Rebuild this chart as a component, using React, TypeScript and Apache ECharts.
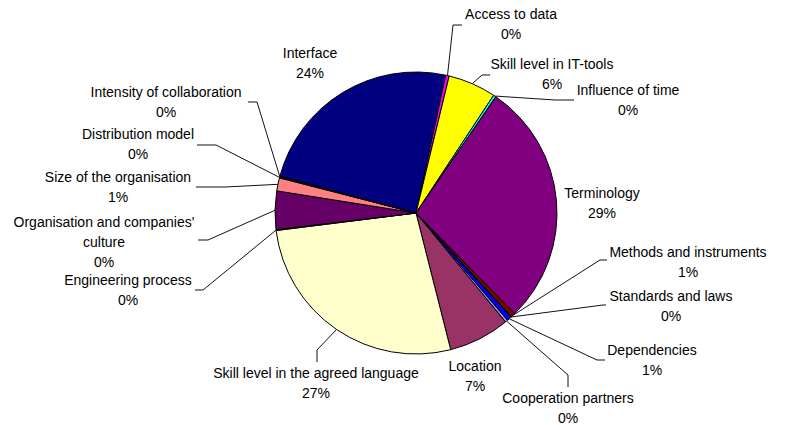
import React, { useEffect, useRef } from "react";
import * as echarts from "echarts";

// Slices in drawing order (clockwise)
const categories = [
  "Cooperation partners",
  "Location",
  "Skill level in the agreed language",
  "Engineering process",
  "Organisation and companies' culture",
  "Size of the organisation",
  "Distribution model",
  "Intensity of collaboration",
  "Interface",
  "Access to data",
  "Skill level in IT-tools",
  "Influence of time",
  "Terminology",
  "Methods and instruments",
  "Standards and laws",
  "Dependencies",
];
const shares = [0.3, 7.0, 27.0, 0.1, 4.4, 1.5, 0.1, 0.1, 24.2, 0.4, 5.5, 0.3, 28.1, 0.5, 0.1, 0.5];
const percentLabels = ["0%", "7%", "27%", "0%", "0%", "1%", "0%", "0%", "24%", "0%", "6%", "0%", "29%", "1%", "0%", "1%"];
const colors = [
  "#9999FF", "#993366", "#FFFFCC", "#CCFFFF", "#660066", "#FF8080", "#0066CC", "#CCCCFF",
  "#000080", "#FF00FF", "#FFFF00", "#00FFFF", "#800080", "#800000", "#008080", "#0000FF",
];
const wrappedNames: Record<string, string> = {
  "Organisation and companies' culture": "Organisation and companies'\nculture",
};

// Label placement (centre of the label block, and leader line elbow/end points)
type Placement = { c: [number, number]; line: [number, number][] | null };
const placements: Placement[] = [
  { c: [568, 408], line: [[568, 375], [568, 387]] },
  { c: [475, 376], line: null },
  { c: [316, 383], line: [[317, 350], [317, 362]] },
  { c: [128, 290], line: [[203, 290], [195, 290]] },
  { c: [104, 242], line: [[208, 240], [198, 240]] },
  { c: [118, 187], line: [[225, 187], [196, 187]] },
  { c: [138, 144], line: [[216, 145], [197, 145]] },
  { c: [166, 102], line: [[257, 102], [248, 102]] },
  { c: [310, 63], line: null },
  { c: [511, 24], line: [[453, 25], [462, 25]] },
  { c: [552, 74], line: [[482, 75], [490, 75]] },
  { c: [628, 100], line: [[555, 100], [574, 100]] },
  { c: [602, 203], line: null },
  { c: [688, 262], line: [[600, 260], [607, 260]] },
  { c: [671, 306], line: [[603, 305], [606, 305]] },
  { c: [652, 360], line: [[597, 360], [605, 360]] },
];

export default function App() {
  const ref = useRef<HTMLDivElement>(null);
  useEffect(() => {
    document.body.style.margin = "0";
    if (!ref.current) return;
    const chart = echarts.init(ref.current, null, { renderer: "svg" });
    const data = categories.map((name, i) => ({
      name,
      value: shares[i],
      itemStyle: { color: colors[i] },
      labelLine: { show: placements[i].line != null },
    }));
    chart.setOption({
      animation: false,
      backgroundColor: "#ffffff",
      series: [
        {
          type: "pie",
          center: [416, 213],
          radius: 141,
          startAngle: -49.5,
          clockwise: true,
          avoidLabelOverlap: false,
          silent: true,
          data,
          itemStyle: { borderColor: "#000000", borderWidth: 1 },
          label: {
            show: true,
            formatter: (p: any) =>
              (wrappedNames[p.name] || p.name) + "\n" + percentLabels[p.dataIndex],
            fontFamily: "Liberation Sans, Arial, sans-serif",
            fontSize: 14,
            lineHeight: 20,
            color: "#000000",
            align: "center",
            overflow: "none",
            edgeDistance: 0,
          },
          labelLine: {
            show: true,
            length: 5,
            length2: 5,
            smooth: false,
            lineStyle: { color: "#111111", width: 1 },
          },
          labelLayout: (params: any) => {
            const pl = placements[params.dataIndex];
            const out: any = {
              x: pl.c[0],
              y: pl.c[1],
              align: "center",
              verticalAlign: "middle",
            };
            if (pl.line && params.labelLinePoints && params.labelLinePoints[0]) {
              out.labelLinePoints = [params.labelLinePoints[0], pl.line[0], pl.line[1]];
            }
            return out;
          },
          emphasis: { disabled: true },
        },
      ],
    });
    return () => chart.dispose();
  }, []);
  return <div ref={ref} style={{ width: 785, height: 425 }} />;
}
